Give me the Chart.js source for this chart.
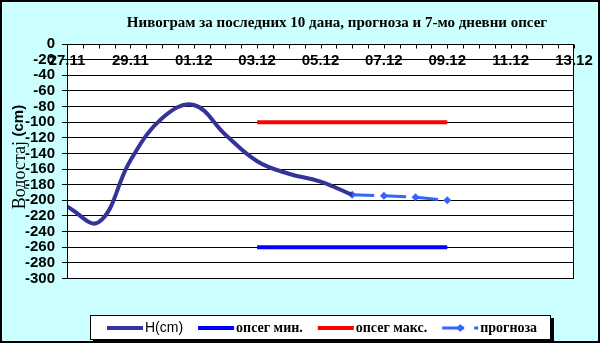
<!DOCTYPE html>
<html>
<head>
<meta charset="utf-8">
<script src="https://cdn.jsdelivr.net/npm/chart.js@4"></script>
<style>
    html, body { margin: 0; padding: 0; background: #fff; }
    canvas { display: block; }
</style>
</head>
<body>
<canvas id="nivoChart" width="600" height="343"></canvas>
<script>
// датуми на x оси (индекс = дан од 27.11)
const dayLabels = ['27.11', '28.11', '29.11', '30.11', '01.12', '02.12', '03.12', '04.12', '05.12',
    '06.12', '07.12', '08.12', '09.12', '10.12', '11.12', '12.12', '13.12'];

// H(cm), 27.11 - 06.12
const levelH = [-208, -228, -149, -95, -78, -116, -150, -166, -176, -193];

// прогноза, 06.12 - 09.12
const forecastStart = 9;
const forecast = [-193, -194, -196, -200];

// 7-мо дневни опсег, 03.12 - 09.12
const rangeDays = [6, 12];
const rangeMin = -260;
const rangeMax = -100;

const yMin = -300, yMax = 0, yStep = 20;

const chartTitle = 'Нивограм за последних 10 дана, прогноза и 7-мо дневни опсег';

const toPoints = (vals, start) => vals.map((v, i) => ({ x: start + i, y: v }));

const framePlugin = {
    id: 'frame',
    beforeDraw(chart) {
        const { ctx, chartArea: a } = chart;
        ctx.save();
        ctx.fillStyle = '#ccffff';
        ctx.fillRect(0, 0, chart.width, chart.height);
        ctx.fillStyle = '#ffffff';
        ctx.fillRect(a.left, a.top, a.right - a.left, a.bottom - a.top);
        ctx.restore();
    },
    afterDraw(chart) {
        const { ctx, chartArea: a } = chart;
        const x = chart.scales.x, y = chart.scales.y;
        ctx.save();

        // оквир графикона
        ctx.strokeStyle = '#000';
        ctx.lineWidth = 1;
        const L = Math.round(a.left) + 0.5, T = Math.round(a.top) + 0.5;
        const R = Math.round(a.right) - 0.5, B = Math.round(a.bottom) - 0.5;
        ctx.strokeRect(L, T, R - L, B - T);

        // подеоци на горњој ивици (пола дана)
        ctx.beginPath();
        x.ticks.forEach(t => {
            const px = Math.round(x.getPixelForValue(t.value)) + 0.5;
            ctx.moveTo(px, T);
            ctx.lineTo(px, T + 4);
        });
        ctx.stroke();

        // датуми, преко линије -20
        ctx.fillStyle = '#000';
        ctx.font = 'bold 15px Arial';
        ctx.textAlign = 'center';
        ctx.textBaseline = 'middle';
        const yLab = y.getPixelForValue(-20) + 1;
        x.ticks.forEach(t => {
            if (t.value % 2 === 0) ctx.fillText(dayLabels[t.value], x.getPixelForValue(t.value), yLab);
        });

        // наслов
        ctx.font = 'bold 15px "Liberation Serif"';
        ctx.textBaseline = 'alphabetic';
        ctx.fillText(chartTitle, 337, 27, 421);

        // наслов y осе
        ctx.save();
        ctx.translate(19, 157);
        ctx.rotate(-Math.PI / 2);
        const p1 = 'Водостај', p2 = '(cm)';
        ctx.font = '18px "Liberation Serif"';
        const w1 = ctx.measureText(p1 + ' ').width;
        ctx.font = 'bold 15px Arial';
        const w2 = ctx.measureText(p2).width;
        let sx = -(w1 + w2) / 2;
        ctx.textAlign = 'left';
        ctx.textBaseline = 'middle';
        ctx.font = '18px "Liberation Serif"';
        ctx.fillText(p1, sx, 1);
        ctx.font = 'bold 15px Arial';
        ctx.fillText(p2, sx + w1, 0);
        ctx.restore();

        // легенда
        const lx = 90, ly = 315, lw = 461, lh = 25;
        ctx.fillStyle = '#000';
        ctx.fillRect(lx + 3, ly + 3, lw, lh);
        ctx.fillStyle = '#fff';
        ctx.fillRect(lx, ly, lw, lh);
        ctx.strokeStyle = '#000';
        ctx.strokeRect(lx + 0.5, ly + 0.5, lw - 1, lh - 1);

        const cy = ly + 13;
        let cx = 107;
        chart.data.datasets.forEach((ds, i) => {
            ctx.strokeStyle = ds.borderColor;
            ctx.lineWidth = ds.borderWidth;
            ctx.setLineDash(ds.borderDash || []);
            ctx.beginPath();
            ctx.moveTo(cx, cy);
            ctx.lineTo(cx + 36, cy);
            ctx.stroke();
            ctx.setLineDash([]);
            if (ds.pointRadius) {
                ctx.fillStyle = ds.borderColor;
                const mx = cx + 18, r = ds.pointRadius;
                ctx.beginPath();
                ctx.moveTo(mx, cy - r); ctx.lineTo(mx + r, cy); ctx.lineTo(mx, cy + r); ctx.lineTo(mx - r, cy);
                ctx.closePath();
                ctx.fill();
            }
            cx += 38;
            ctx.fillStyle = '#000';
            ctx.font = i === 0 ? '14px Arial' : 'bold 14px "Liberation Serif"';
            ctx.textAlign = 'left';
            ctx.textBaseline = 'middle';
            ctx.fillText(ds.label, cx, cy);
            cx += ctx.measureText(ds.label).width + 15;
        });

        // спољни оквир
        ctx.strokeStyle = '#000';
        ctx.lineWidth = 2;
        ctx.strokeRect(1, 1, chart.width - 2, chart.height - 2);
        ctx.restore();
    }
};

const ctx = document.getElementById('nivoChart').getContext('2d');
const myChart = new Chart(ctx, {
    type: 'line',
    data: {
        datasets: [
            { label: 'H(cm)', data: toPoints(levelH, 0), borderColor: '#333399', borderWidth: 4,
              tension: 0.4, pointRadius: 0 },
            { label: 'опсег мин.', data: rangeDays.map(d => ({ x: d, y: rangeMin })), borderColor: '#0000ff',
              borderWidth: 4, pointRadius: 0 },
            { label: 'опсег макс.', data: rangeDays.map(d => ({ x: d, y: rangeMax })), borderColor: '#ff0000',
              borderWidth: 4, pointRadius: 0 },
            { label: 'прогноза', data: toPoints(forecast, forecastStart), borderColor: '#3366ff',
              backgroundColor: '#3366ff', borderWidth: 3, borderDash: [22, 10], pointStyle: 'rectRot',
              pointRadius: 4, pointBorderWidth: 0, pointBackgroundColor: '#3366ff' }
        ]
    },
    options: {
        responsive: false,
        animation: false,
        layout: { padding: { top: 44, right: 26, bottom: 64.5, left: 0 } },
        plugins: { legend: { display: false }, tooltip: { enabled: false } },
        scales: {
            x: {
                type: 'linear', position: 'top', display: false, min: 0, max: dayLabels.length - 1,
                ticks: { stepSize: 0.5, autoSkip: false }
            },
            y: {
                min: yMin, max: yMax,
                ticks: { stepSize: yStep, autoSkip: false, color: '#000', padding: 7,
                         font: { family: 'Arial', size: 15, weight: 'bold' } },
                grid: { color: '#000', lineWidth: 1, tickLength: 5 },
                border: { color: '#000' },
                afterFit: s => { s.width = 67; }
            }
        }
    },
    plugins: [framePlugin]
});
</script>
</body>
</html>
